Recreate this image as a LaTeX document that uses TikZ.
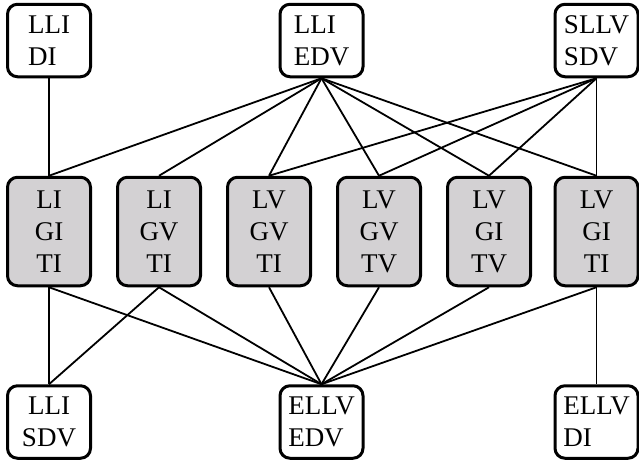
\documentclass[tikz,border=0pt]{standalone}
\usepackage{fontspec}
\setmainfont{Liberation Serif}
\definecolor{boxgray}{RGB}{211,209,211}

\begin{document}
\begin{tikzpicture}[x=1pt,y=-1pt,
	box/.style={draw,line width=3pt,rounded corners=10pt,minimum width=83pt,inner sep=4pt,font=\fontsize{27}{32}\selectfont},
	flat/.style={box,minimum height=72.5pt},
	tall/.style={box,minimum height=108.5pt,fill=boxgray,align=center},
	link/.style={line width=1.8pt}]
	\useasboundingbox (0,0) rectangle (639,464);

	% Top row
	\node[flat,align=left] (t0) at (49,40.5) {LLI\\DI};
	\node[flat,align=left] (t1) at (321.5,40.5) {LLI\\EDV};
	\node[flat,align=left] (t2) at (596.5,40.5) {SLLV\\SDV};

	% Middle row
	\node[tall] (m0) at (49,231.5) {LI\\GI\\TI};
	\node[tall] (m1) at (159,231.5) {LI\\GV\\TI};
	\node[tall] (m2) at (269,231.5) {LV\\GV\\TI};
	\node[tall] (m3) at (379,231.5) {LV\\GV\\TV};
	\node[tall] (m4) at (489,231.5) {LV\\GI\\TV};
	\node[tall] (m5) at (596.5,231.5) {LV\\GI\\TI};

	% Bottom row
	\node[flat,align=center] (b0) at (49,422) {LLI\\SDV};
	\node[flat,align=left] (b1) at (321.5,422) {ELLV\\EDV};
	\node[flat,align=left] (b2) at (596.5,422) {ELLV\\DI};

	% Edges
	\draw[link] (t0.south) -- (m0.north);
	\foreach \i in {0,...,5}
	\draw[link] (t1.south) -- (m\i.north);
	\foreach \i in {2,...,5}
	\draw[link] (t2.south) -- (m\i.north);
	\foreach \i in {0,1}
	\draw[link] (m\i.south) -- (b0.north);
	\foreach \i in {0,...,5}
	\draw[link] (m\i.south) -- (b1.north);
	\draw[link] (m5.south) -- (b2.north);
\end{tikzpicture}
\end{document}
